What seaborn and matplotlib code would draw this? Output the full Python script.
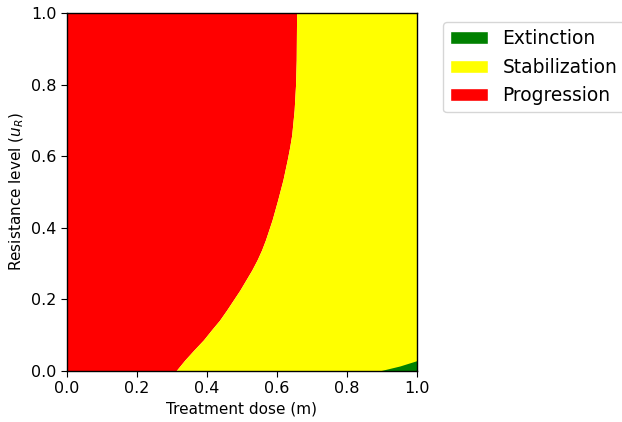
import matplotlib
matplotlib.use("Agg")
import matplotlib.pyplot as plt
from matplotlib.patches import Patch
import seaborn as sns

# red / yellow boundary: resistance level -> dose where progression stops
u_boundary = [0.0, 0.031, 0.059, 0.087, 0.115, 0.142, 0.170, 0.198, 0.226,
              0.254, 0.282, 0.310, 0.338, 0.366, 0.422, 0.478, 0.534, 0.589,
              0.624, 0.659, 0.729, 0.799, 0.869, 1.0]
m_boundary = [0.311, 0.337, 0.363, 0.390, 0.413, 0.436, 0.456, 0.475, 0.494,
              0.511, 0.528, 0.543, 0.556, 0.567, 0.586, 0.602, 0.617, 0.629,
              0.636, 0.642, 0.649, 0.653, 0.655, 0.656]

# green corner (extinction): dose -> upper resistance level
m_extinct = [0.892, 0.951, 1.0]
u_extinct = [0.0, 0.014, 0.029]

categories = ["Extinction", "Stabilization", "Progression"]
colors = ["green", "yellow", "red"]

sns.set_style("ticks", rc={"axes.edgecolor": "black", "text.color": "black",
                           "axes.labelcolor": "black", "xtick.color": "black",
                           "ytick.color": "black"})
plt.rcParams["font.family"] = ["DejaVu Sans"]

fig = plt.figure(figsize=(6.22, 4.22), dpi=100)
ax = fig.add_axes([0.1077, 0.1209, 0.5627, 0.8483])

ax.fill_betweenx(u_boundary, 0, m_boundary, color="red", linewidth=0)
ax.fill_betweenx(u_boundary, m_boundary, 1, color="yellow", linewidth=0)
ax.fill_between(m_extinct, 0, u_extinct, color="green", linewidth=0)

ax.set_xlim(0, 1)
ax.set_ylim(0, 1)
ax.set_xticks([0, 0.2, 0.4, 0.6, 0.8, 1.0])
ax.set_yticks([0, 0.2, 0.4, 0.6, 0.8, 1.0])
ax.tick_params(labelsize=11.5, length=4)
ax.set_xlabel("Treatment dose (m)", fontsize=11)
ax.set_ylabel("Resistance level ($u_R$)", fontsize=11)
for s in ax.spines.values():
    s.set_linewidth(1.0)

handles = [Patch(facecolor=c, label=l) for c, l in zip(colors, categories)]
fig.legend(handles=handles, loc="upper left", bbox_to_anchor=(0.7122, 0.948),
           borderaxespad=0, fontsize=13.4, frameon=True, fancybox=True,
           edgecolor="0.8", framealpha=0.8)

fig.savefig("out.png", dpi=100)
